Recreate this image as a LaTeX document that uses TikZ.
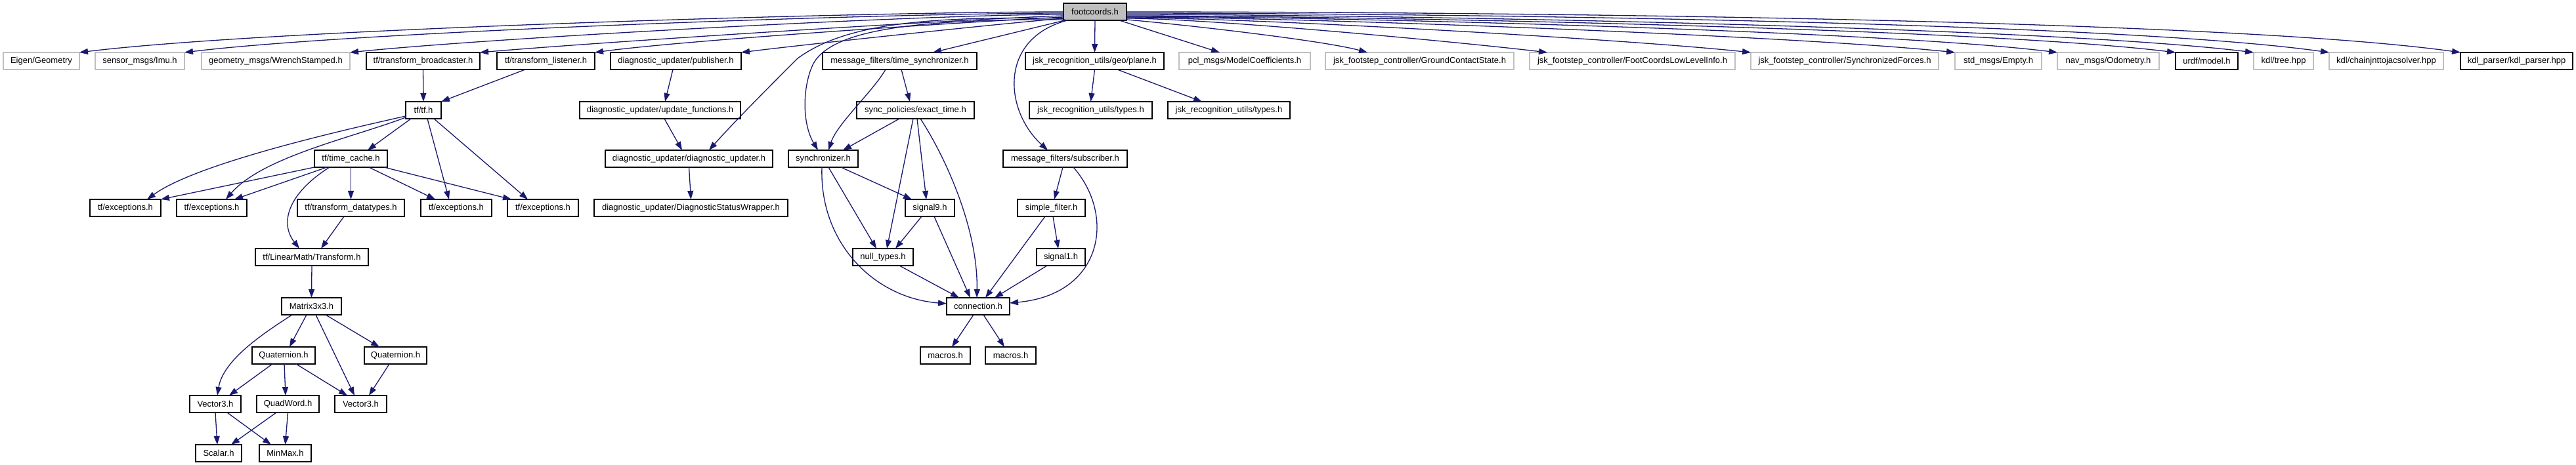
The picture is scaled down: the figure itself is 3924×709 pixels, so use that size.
\documentclass[tikz,border=0pt]{standalone}
\usepackage{fontspec}
\setmainfont{Liberation Sans}
\usetikzlibrary{arrows.meta}
\definecolor{edgecol}{HTML}{191970}
\definecolor{boxgray}{HTML}{BFBFBF}
\tikzset{
 box/.style={draw=black, line width=1.4pt, minimum height=26pt, inner sep=0pt, outer sep=0pt, text=black, font=\fontsize{13pt}{15pt}\selectfont},
 gbox/.style={box, draw=boxgray},
 conn/.style={draw=edgecol, line width=1.3pt, -{Triangle[length=13pt,width=9pt]}},
}
\begin{document}
\begin{tikzpicture}[x=1pt,y=1pt]
\fill[white] (0,0) rectangle (3924,709);
\useasboundingbox (0,0) rectangle (3924,709);
% row 0
\node[box, fill=boxgray, minimum width=96pt] (root) at (1668,691) {footcoords.h};
% row 1
\node[gbox, minimum width=116pt] (eig) at (63,616) {Eigen/Geometry};
\node[gbox, minimum width=136pt] (imu) at (213,616) {sensor\_msgs/Imu.h};
\node[gbox, minimum width=226pt] (wre) at (420,616) {geometry\_msgs/WrenchStamped.h};
\node[box, minimum width=173pt] (brd) at (644.5,616) {tf/transform\_broadcaster.h};
\node[box, minimum width=149pt] (lis) at (831.5,616) {tf/transform\_listener.h};
\node[box, minimum width=199pt] (pub) at (1029.5,616) {diagnostic\_updater/publisher.h};
\node[box, minimum width=235pt] (tsy) at (1370.5,616) {message\_filters/time\_synchronizer.h};
\node[box, minimum width=211pt] (pla) at (1667.5,616) {jsk\_recognition\_utils/geo/plane.h};
\node[gbox, minimum width=200pt] (pcl) at (1896,616) {pcl\_msgs/ModelCoefficients.h};
\node[gbox, minimum width=287pt] (gcs) at (2162.5,616) {jsk\_footstep\_controller/GroundContactState.h};
\node[gbox, minimum width=313pt] (fcl) at (2486.5,616) {jsk\_footstep\_controller/FootCoordsLowLevelInfo.h};
\node[gbox, minimum width=286pt] (sfo) at (2810,616) {jsk\_footstep\_controller/SynchronizedForces.h};
\node[gbox, minimum width=132pt] (emp) at (3044,616) {std\_msgs/Empty.h};
\node[gbox, minimum width=155pt] (odo) at (3211.5,616) {nav\_msgs/Odometry.h};
\node[box, minimum width=95pt] (urd) at (3361.5,616) {urdf/model.h};
\node[gbox, minimum width=91pt] (tre) at (3478.5,616) {kdl/tree.hpp};
\node[gbox, minimum width=174pt] (cjs) at (3635,616) {kdl/chainjnttojacsolver.hpp};
\node[box, minimum width=171pt] (kdp) at (3833.5,616) {kdl\_parser/kdl\_parser.hpp};
% row 2
\node[box, minimum width=54pt] (tf) at (645,541) {tf/tf.h};
\node[box, minimum width=245pt] (upf) at (1005.5,541) {diagnostic\_updater/update\_functions.h};
\node[box, minimum width=179pt] (ext) at (1394.5,541) {sync\_policies/exact\_time.h};
\node[box, minimum width=187pt] (ty1) at (1661.5,541) {jsk\_recognition\_utils/types.h};
\node[box, minimum width=186pt] (ty2) at (1872,541) {jsk\_recognition\_utils/types.h};
% row 3
\node[box, minimum width=111pt] (tc) at (534.5,467) {tf/time\_cache.h};
\node[box, minimum width=255pt] (dup) at (1049.5,467) {diagnostic\_updater/diagnostic\_updater.h};
\node[box, minimum width=106pt] (syn) at (1254,467) {synchronizer.h};
\node[box, minimum width=189pt] (sub) at (1622.5,467) {message\_filters/subscriber.h};
% row 4
\node[box, minimum width=108pt] (ex1) at (191,392) {tf/exceptions.h};
\node[box, minimum width=107pt] (ex2) at (322.5,392) {tf/exceptions.h};
\node[box, minimum width=163pt] (tdt) at (534.5,392) {tf/transform\_datatypes.h};
\node[box, minimum width=108pt] (ex3) at (695,392) {tf/exceptions.h};
\node[box, minimum width=108pt] (ex4) at (827,392) {tf/exceptions.h};
\node[box, minimum width=295pt] (dsw) at (1052.5,392) {diagnostic\_updater/DiagnosticStatusWrapper.h};
\node[box, minimum width=75pt] (s9) at (1416.5,392) {signal9.h};
\node[box, minimum width=103pt] (sf) at (1601.5,392) {simple\_filter.h};
% row 5
\node[box, minimum width=172pt] (tr) at (475,317) {tf/LinearMath/Transform.h};
\node[box, minimum width=92pt] (nt) at (1345,317) {null\_types.h};
\node[box, minimum width=74pt] (s1) at (1616,317) {signal1.h};
% row 6
\node[box, minimum width=91pt] (m33) at (474.5,242) {Matrix3x3.h};
\node[box, minimum width=96pt] (con) at (1490,242) {connection.h};
% row 7
\node[box, minimum width=96pt] (q1) at (432,167) {Quaternion.h};
\node[box, minimum width=95pt] (q2) at (602.5,167) {Quaternion.h};
\node[box, minimum width=76pt] (mc1) at (1440,167) {macros.h};
\node[box, minimum width=77pt] (mc2) at (1539.5,167) {macros.h};
% row 8
\node[box, minimum width=78pt] (v1) at (328,93) {Vector3.h};
\node[box, minimum width=95pt] (qw) at (438.5,93) {QuadWord.h};
\node[box, minimum width=79pt] (v2) at (549.5,93) {Vector3.h};
% row 9
\node[box, minimum width=70pt] (sc) at (333,18) {Scalar.h};
\node[box, minimum width=79pt] (mm) at (434.5,18) {MinMax.h};

% root edges, left
\draw[conn] (root.west) .. controls +(-294,0) and +(292,36) .. (eig.north east);
\draw[conn] ([yshift=-2pt]root.west) .. controls +(-263,0) and +(261,32) .. (imu.north east);
\draw[conn] ([yshift=-4pt]root.west) .. controls +(-213,0) and +(212,22) .. (wre.north east);
\draw[conn] ([yshift=-6pt]root.west) .. controls +(-174,-6) and +(173,15) .. (brd.north east);
\draw[conn] ([yshift=-8pt]root.west) .. controls +(-140,-7) and +(139,19) .. (lis.north east);
\draw[conn] ([yshift=-10pt]root.west) .. controls +(-96,-8) and +(95,12) .. (pub.north east);
\draw[conn] ([xshift=2pt]root.south west) -- ([xshift=50.5pt]tsy.north);
\draw[conn] ([yshift=-10pt]root.west) .. controls (1420,684) and (1290,675) .. (1215,620)
   .. controls (1185,590) and (1120,525) .. ([xshift=30.5pt]dup.north);
\draw[conn] ([xshift=2pt,yshift=1pt]root.south west) .. controls (1400,680) and (1265,665) .. (1238,610)
   .. controls (1222,575) and (1222,520) .. ([xshift=-8pt]syn.north);
\draw[conn] ([xshift=6pt]root.south west) .. controls (1520,650) and (1530,540) .. ([xshift=-26.5pt]sub.north);
\draw[conn] (root.south) -- (pla.north);
\draw[conn] ([xshift=-11pt]root.south east) -- ([xshift=-38pt]pcl.north);
% root edges, right
\draw[conn] ([yshift=-12pt]root.east) .. controls +(72,-6) and +(-70,19) .. ([xshift=64pt]gcs.north west);
\draw[conn] ([yshift=-10pt]root.east) .. controls +(126,0) and +(-125,15) .. ([xshift=27pt]fcl.north west);
\draw[conn] ([yshift=-9pt]root.east) .. controls +(187,0) and +(-186,20) .. (sfo.north west);
\draw[conn] ([yshift=-8pt]root.east) .. controls +(248,0) and +(-247,26) .. (emp.north west);
\draw[conn] ([yshift=-7pt]root.east) .. controls +(278,0) and +(-276,34) .. (odo.north west);
\draw[conn] ([yshift=-6pt]root.east) .. controls +(313,0) and +(-311,38) .. (urd.north west);
\draw[conn] ([yshift=-4pt]root.east) .. controls +(337,0) and +(-334,41) .. (tre.north west);
\draw[conn] ([yshift=-2pt]root.east) .. controls +(359,0) and +(-356,50) .. (cjs.north west);
\draw[conn] (root.east) .. controls +(398,0) and +(-394,55) .. (kdp.north west);

% tf zone
\draw[conn] (brd.south) -- (tf.north);
\draw[conn] ([xshift=-31.5pt]lis.south) -- (tf.north east);
\draw[conn] ([xshift=-4.5pt]pub.south) -- ([xshift=7.5pt]upf.north);
\draw[conn] ([xshift=6.5pt]upf.south) -- ([xshift=-10.5pt]dup.north);
\draw[conn] (dup.south) -- (dsw.north);
\draw[conn] ([yshift=-9pt]tf.west) .. controls (520,510) and (300,460) .. ([xshift=33pt]ex1.north);
\draw[conn] ([yshift=-11pt]tf.west) .. controls (540,500) and (400,470) .. ([xshift=21.5pt]ex2.north);
\draw[conn] ([xshift=-19pt]tf.south) -- ([xshift=25.5pt]tc.north);
\draw[conn] ([xshift=6pt]tf.south) -- ([xshift=-11pt]ex3.north);
\draw[conn] ([xshift=16pt]tf.south) -- ([xshift=-23pt]ex4.north);
\draw[conn] (tc.south west) -- (ex1.north east);
\draw[conn] ([xshift=19pt]tc.south west) -- ([xshift=-19pt]ex2.north east);
\draw[conn] ([xshift=23pt]tc.south west) .. controls (440,415) and (425,370) .. ([xshift=-19pt]tr.north);
\draw[conn] (tc.south) -- (tdt.north);
\draw[conn] ([xshift=27.5pt]tc.south) -- ([xshift=-32pt]ex3.north);
\draw[conn] ([xshift=-5pt]tc.south east) -- ([xshift=-48pt]ex4.north);
\draw[conn] ([xshift=-10.5pt]tdt.south) -- ([xshift=14pt]tr.north);
\draw[conn] (tr.south) -- (m33.north);
% matrix zone
\draw[conn] ([xshift=-29.5pt]m33.south) .. controls (400,200) and (340,160) .. ([xshift=3pt]v1.north);
\draw[conn] ([xshift=-7.5pt]m33.south) -- ([xshift=9pt]q1.north);
\draw[conn] ([xshift=6.5pt]m33.south) -- ([xshift=-9.5pt]v2.north);
\draw[conn] ([xshift=21.5pt]m33.south) -- ([xshift=-24.5pt]q2.north);
\draw[conn] ([xshift=-17pt]q1.south) -- ([xshift=21pt]v1.north);
\draw[conn] ([xshift=1pt]q1.south) -- ([xshift=-3.5pt]qw.north);
\draw[conn] ([xshift=19pt]q1.south) -- ([xshift=-20.5pt]v2.north);
\draw[conn] ([xshift=-9.5pt]q2.south) -- ([xshift=12.5pt]v2.north);
\draw[conn] (v1.south) -- ([xshift=-2pt]sc.north);
\draw[conn] ([xshift=18pt]v1.south) -- ([xshift=-21.5pt]mm.north);
\draw[conn] ([xshift=-17.5pt]qw.south) -- ([xshift=19pt]sc.north);
\draw[conn] (qw.south) -- (mm.north);
% sync zone
\draw[conn] (pla.south) -- (ty1.north);
\draw[conn] ([xshift=34.5pt]pla.south) -- ([xshift=-41pt]ty2.north);
\draw[conn] ([xshift=-21.5pt]tsy.south) .. controls (1330,570) and (1275,520) .. ([xshift=8pt]syn.north);
\draw[conn] ([xshift=2.5pt]tsy.south) -- ([xshift=-8.5pt]ext.north);
\draw[conn] ([xshift=-24.5pt]ext.south) -- ([xshift=30pt]syn.north);
\draw[conn] ([xshift=-3.5pt]ext.south) -- ([xshift=6pt]nt.north);
\draw[conn] ([xshift=2.5pt]ext.south) -- ([xshift=-5.5pt]s9.north);
\draw[conn] ([xshift=7.5pt]ext.south) .. controls (1440,470) and (1490,360) .. ([xshift=-2pt]con.north);
\draw[conn] ([xshift=8pt]syn.south) -- ([xshift=-10pt]nt.north);
\draw[conn] ([xshift=27pt]syn.south) -- ([xshift=-27.5pt]s9.north);
\draw[conn] ([xshift=-2pt]syn.south) .. controls (1248,340) and (1330,255) .. ([yshift=4pt]con.west);
\draw[conn] ([xshift=-12.5pt]s9.south) -- ([xshift=19pt]nt.north);
\draw[conn] ([xshift=6.5pt]s9.south) -- ([xshift=-12pt]con.north);
\draw[conn] ([xshift=25pt]nt.south) -- ([xshift=-29pt]con.north);
\draw[conn] ([xshift=-3.5pt]sub.south) -- ([xshift=4.5pt]sf.north);
\draw[conn] ([xshift=12.5pt]sub.south) .. controls (1700,380) and (1680,260) .. ([yshift=5pt]con.east);
\draw[conn] ([xshift=2.5pt]sf.south) -- ([xshift=-4pt]s1.north);
\draw[conn] ([xshift=-9.5pt]sf.south) -- ([xshift=11pt]con.north);
\draw[conn] ([xshift=-21pt]s1.south) -- ([xshift=25pt]con.north);
\draw[conn] ([xshift=-7pt]con.south) -- ([xshift=10pt]mc1.north);
\draw[conn] ([xshift=8pt]con.south) -- ([xshift=-9.5pt]mc2.north);
\end{tikzpicture}
\end{document}
